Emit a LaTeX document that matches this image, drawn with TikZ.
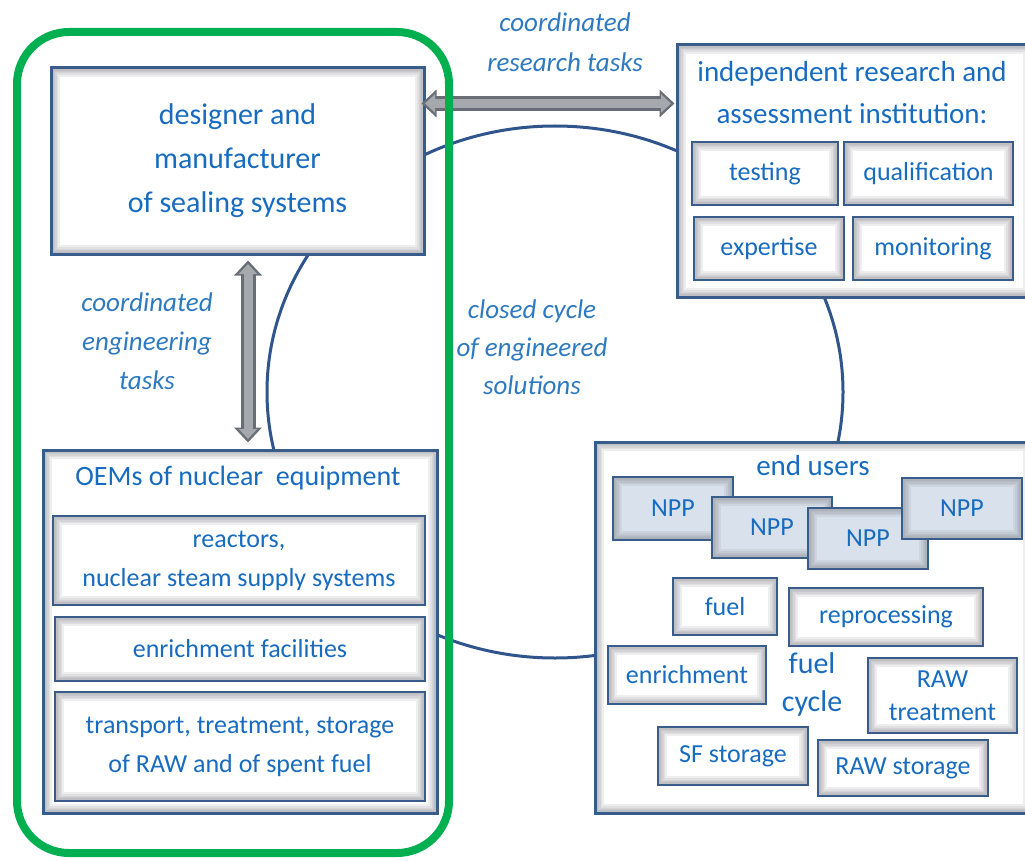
\documentclass[tikz,border=0pt]{standalone}
\usepackage{fontspec}
\setmainfont{Carlito}
\usetikzlibrary{arrows.meta,calc}
\definecolor{navy}{RGB}{56,93,138}
\definecolor{tblue}{RGB}{24,108,192}
\definecolor{lblue}{RGB}{46,122,192}
\definecolor{ringblue}{RGB}{47,85,140}
\definecolor{framegreen}{RGB}{0,176,80}
\definecolor{nppfill}{RGB}{216,225,236}
\definecolor{shadowgray}{RGB}{140,140,148}
\definecolor{arrowedge}{RGB}{105,110,118}
\definecolor{arrowfill}{RGB}{165,168,172}
\newcommand\fsz[2]{\fontsize{#1}{#2}\selectfont}
\tikzset{
  box/.style={draw=navy, line width=3pt, fill=white, inner sep=0pt, align=center, text=tblue,
    path picture={
      \foreach \w in {18,14,11,8,6} {
        \draw[shadowgray, line width=\w pt, opacity=0.14] (path picture bounding box.south west) rectangle (path picture bounding box.north east);}}},
  subbox/.style={box, line width=2.5pt, font=\fsz{26}{39}},
  nppbox/.style={subbox, fill=nppfill},
  title/.style={align=center, text=tblue, inner sep=0pt},
  lbl/.style={align=center, text=lblue, inner sep=0pt, font=\itshape\fsz{27}{39}},
  arrowouter/.style={line width=15pt, draw=arrowedge, {Triangle[length=15pt,width=27pt]}-{Triangle[length=15pt,width=27pt]}},
  arrowinner/.style={line width=9pt, draw=arrowfill, {Triangle[length=10pt,width=18pt]}-{Triangle[length=10pt,width=18pt]}},
}
\begin{document}
\begin{tikzpicture}[x=1pt,y=-1pt]
\useasboundingbox (0,0) rectangle (1025,861);
\fill[white] (0,0) rectangle (1025,861);

% closed cycle ring
\draw[ringblue, line width=3pt] (555,392) ellipse [x radius=288, y radius=266];

% designer
\node[box, minimum width=373pt, minimum height=186pt, font=\fsz{30}{44}] (designer) at (237.5,161) {designer and\\manufacturer\\of sealing systems};

% institution
\node[box, minimum width=355pt, minimum height=252pt] (inst) at (854.5,171) {};
\node[title, font=\fsz{29}{42}] (insttitle) at (852,93) {independent research and\\assessment institution:};
\node[subbox, minimum width=146pt, minimum height=63pt] (testing) at (765,173.5) {testing};
\node[subbox, minimum width=169pt, minimum height=63pt] (qual) at (928.5,173.5) {qualification};
\node[subbox, minimum width=150pt, minimum height=63pt] (expert) at (769,248.5) {expertise};
\node[subbox, minimum width=160pt, minimum height=63pt] (monit) at (933,248.5) {monitoring};

% OEMs
\node[box, minimum width=394pt, minimum height=363pt] (oem) at (240,631.5) {};
\node[title, font=\fsz{28}{40}] (oemtitle) at (238,478) {OEMs of nuclear\ \ equipment};
\node[subbox, minimum width=372pt, minimum height=89pt] (reactors) at (239,560.5) {reactors,\\nuclear steam supply systems};
\node[subbox, minimum width=370pt, minimum height=64pt] (enrfac) at (240,649) {enrichment facilities};
\node[subbox, minimum width=370pt, minimum height=109pt] (transport) at (240,746.5) {transport, treatment, storage\\of RAW and of spent fuel};

% end users
\node[box, minimum width=437pt, minimum height=371pt] (users) at (813.5,627.5) {};
\node[title, font=\fsz{29}{40}] (userstitle) at (813,466) {end users};
\node[nppbox, minimum width=120pt, minimum height=63pt] (npp1) at (673,508.5) {NPP};
\node[nppbox, minimum width=120pt, minimum height=61pt] (npp2) at (772,527.5) {NPP};
\node[nppbox, minimum width=120pt, minimum height=61pt] (npp3) at (868,538.5) {NPP};
\node[nppbox, minimum width=120pt, minimum height=61pt] (npp4) at (962,508.5) {NPP};
\node[subbox, minimum width=104pt, minimum height=57pt] (fuel) at (725,606.5) {fuel};
\node[subbox, minimum width=194pt, minimum height=58pt] (repro) at (886,617) {reprocessing};
\node[subbox, minimum width=158pt, minimum height=58pt] (enrich) at (687,675) {enrichment};
\node[subbox, minimum width=149pt, minimum height=75pt, font=\fsz{26}{33}] (rawtreat) at (942.5,695.5) {RAW\\treatment};
\node[subbox, minimum width=150pt, minimum height=58pt] (sfstor) at (733,756) {SF storage};
\node[subbox, minimum width=170pt, minimum height=56pt] (rawstor) at (903,768) {RAW storage};
\node[title, font=\fsz{30}{38}] (fuelcycle) at (812,684) {fuel\\cycle};

% labels
\node[lbl, font=\itshape\fsz{27}{40}] (researchlbl) at (565,42) {coordinated\\research tasks};
\node[lbl] (englbl) at (147,341) {coordinated\\engineering\\tasks};
\node[lbl, font=\itshape\fsz{27}{38}] (cyclelbl) at (532,347) {closed cycle\\of engineered\\solutions};

% block arrows
\coordinate (hy) at (0,103.5);
\coordinate (vx) at (248,0);
\draw[arrowouter, shorten <=-4pt, shorten >=1pt] (designer.east |- hy) -- (inst.west |- hy);
\draw[arrowinner, shorten <=-0.5pt, shorten >=4.5pt] (designer.east |- hy) -- (inst.west |- hy);
\draw[arrowouter, shorten <=5pt, shorten >=6pt] (vx |- designer.south) -- (vx |- oem.north);
\draw[arrowinner, shorten <=8.5pt, shorten >=9.5pt] (vx |- designer.south) -- (vx |- oem.north);

% green frame
\draw[framegreen, line width=8pt, rounded corners=52pt] (17,32) rectangle (449,853);
\end{tikzpicture}
\end{document}
